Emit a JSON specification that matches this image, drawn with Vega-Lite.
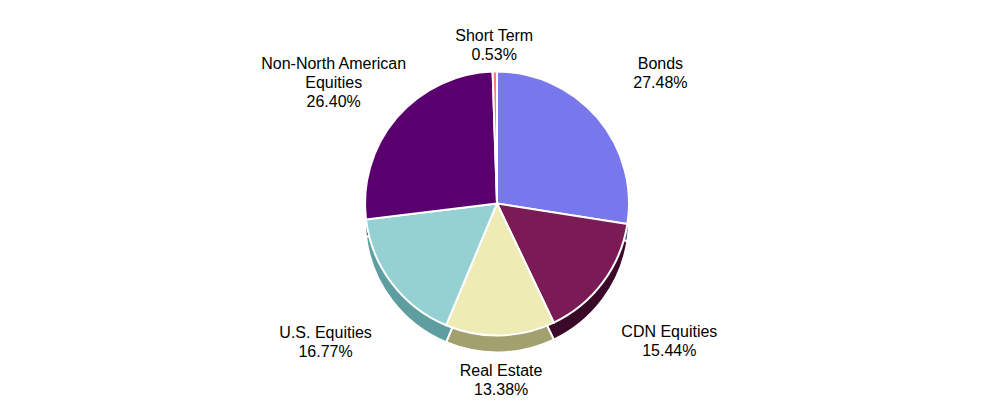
{
  "$schema": "https://vega.github.io/schema/vega-lite/v6.json",
  "width": 994,
  "height": 407,
  "autosize": {"type": "fit", "contains": "padding"},
  "padding": 0,
  "background": "white",
  "view": {"stroke": null},
  "data": {"values": [
    {"idx": 1, "cat": "Bonds", "value": 27.48, "label": "Bonds\n27.48%"},
    {"idx": 2, "cat": "CDN Equities", "value": 15.44, "label": "CDN Equities\n15.44%"},
    {"idx": 3, "cat": "Real Estate", "value": 13.38, "label": "Real Estate\n13.38%"},
    {"idx": 4, "cat": "U.S. Equities", "value": 16.77, "label": "U.S. Equities\n16.77%"},
    {"idx": 5, "cat": "Non-North American Equities", "value": 26.40, "label": "Non-North American\nEquities\n26.40%"},
    {"idx": 6, "cat": "Short Term", "value": 0.53, "label": "Short Term\n0.53%"}
  ]},
  "encoding": {
    "theta": {"field": "value", "type": "quantitative", "stack": true},
    "order": {"field": "idx", "type": "quantitative"}
  },
  "layer": [
    {
      "mark": {"type": "arc", "outerRadius": 132, "yOffset": 17, "stroke": "white", "strokeWidth": 2},
      "encoding": {
        "color": {"field": "cat", "type": "nominal", "legend": null,
          "scale": {"domain": ["Bonds", "CDN Equities", "Real Estate", "U.S. Equities", "Non-North American Equities", "Short Term"],
                    "range": ["#3C3C9A", "#3A0A28", "#A3A070", "#5E9EA0", "#3A0048", "#B05050"]}}
      }
    },
    {
      "mark": {"type": "arc", "outerRadius": 132, "stroke": "white", "strokeWidth": 2},
      "encoding": {
        "color": {"field": "cat", "type": "nominal", "legend": null,
          "scale": {"domain": ["Bonds", "CDN Equities", "Real Estate", "U.S. Equities", "Non-North American Equities", "Short Term"],
                    "range": ["#7878EC", "#7B1B55", "#EEEBB5", "#95D0D2", "#5A006E", "#F08080"]}}
      }
    },
    {
      "mark": {"type": "text", "radius": 215, "fontSize": 16, "font": "Liberation Sans", "lineBreak": "\n", "lineHeight": 19, "color": "black"},
      "encoding": {
        "text": {"condition": {"test": "indexof(['Bonds','CDN Equities','U.S. Equities','Non-North American Equities'], datum.cat) >= 0", "field": "label"}, "value": ""}
      }
    },
    {
      "mark": {"type": "text", "radius": 168, "fontSize": 16, "font": "Liberation Sans", "lineBreak": "\n", "lineHeight": 19, "color": "black"},
      "encoding": {
        "text": {"condition": {"test": "indexof(['Real Estate','Short Term'], datum.cat) >= 0", "field": "label"}, "value": ""}
      }
    }
  ],
  "resolve": {"scale": {"color": "independent"}}
}
